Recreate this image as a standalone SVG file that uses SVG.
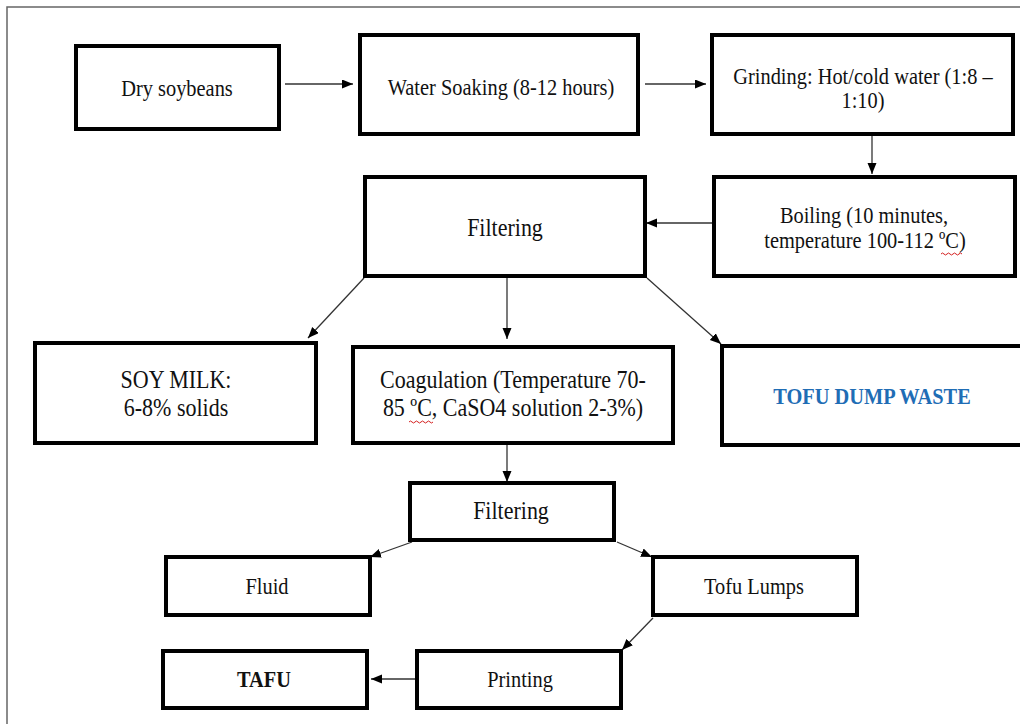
<svg xmlns="http://www.w3.org/2000/svg" width="1020" height="724" viewBox="0 0 1020 724">
<style>
.box{fill:#fff;stroke:#000;stroke-width:4}
.t{font-family:"Liberation Serif","Times New Roman",serif;font-size:20.4px;fill:#111;text-anchor:middle}
.m{font-size:22px}
.b{font-weight:bold}
.blue{fill:#1f6db5}
.c{stroke:#333;stroke-width:1.3;fill:none;marker-end:url(#ah)}
.frame{stroke:#666;stroke-width:1.5;fill:none}
.wavy{stroke:#d42020;stroke-width:1;fill:none}
</style>
<defs>
<marker id="ah" markerUnits="userSpaceOnUse" markerWidth="12" markerHeight="10" refX="11" refY="4.5" orient="auto">
<path d="M0,0 L11,4.5 L0,9 z" fill="#000"/>
</marker>
</defs>
<rect width="1020" height="724" fill="#fff"/>
<path class="frame" d="M7,724 L7,7 L1020,7"/>

<g id="connectors">
<line class="c" x1="285" y1="84" x2="353" y2="84"/>
<line class="c" x1="645" y1="84" x2="706" y2="84"/>
<line class="c" x1="872" y1="134" x2="872" y2="174"/>
<line class="c" x1="713" y1="223" x2="646" y2="223"/>
<line class="c" x1="364" y1="278" x2="308" y2="338"/>
<line class="c" x1="507" y1="278" x2="507" y2="339"/>
<line class="c" x1="647" y1="278" x2="721" y2="344"/>
<line class="c" x1="507" y1="445" x2="507" y2="482"/>
<line class="c" x1="412" y1="542" x2="370" y2="557"/>
<line class="c" x1="617" y1="542" x2="652" y2="557"/>
<line class="c" x1="653" y1="618" x2="622" y2="650"/>
<line class="c" x1="415" y1="679" x2="371" y2="679"/>
</g>

<g id="n-dry">
<rect class="box" x="76" y="46" width="203" height="83"/>
<text class="t" transform="translate(177,96) scale(1,1.1)">Dry soybeans</text>
</g>
<g id="n-soak">
<rect class="box" x="360" y="35" width="278" height="99"/>
<text class="t" transform="translate(501,95) scale(1,1.1)">Water Soaking (8-12 hours)</text>
</g>
<g id="n-grind">
<rect class="box" x="712" y="35" width="301" height="99"/>
<text class="t" transform="translate(863,84) scale(1,1.1)">Grinding: Hot/cold water (1:8 –</text>
<text class="t" transform="translate(863,108) scale(1,1.1)">1:10)</text>
</g>
<g id="n-boil">
<rect class="box" x="714" y="177" width="301" height="99"/>
<text class="t" transform="translate(864,223) scale(1,1.1)">Boiling (10 minutes,</text>
<text class="t" transform="translate(865,248) scale(1,1.1)">temperature 100-112 ºC)</text>
<path class="wavy" d="M941,254 q1.5,-2 3,0 t3,0 t3,0 t3,0 t3,0 t3,0 t3,0"/>
</g>
<g id="n-filter1">
<rect class="box" x="365" y="177" width="280" height="99"/>
<text class="t m" transform="translate(505,236) scale(1,1.1)">Filtering</text>
</g>
<g id="n-soymilk">
<rect class="box" x="35" y="343" width="281" height="100"/>
<text class="t m" transform="translate(176,388) scale(1,1.1)">SOY MILK:</text>
<text class="t m" transform="translate(176,416) scale(1,1.1)">6-8% solids</text>
</g>
<g id="n-coag">
<rect class="box" x="353" y="347" width="320" height="96"/>
<text class="t m" transform="translate(513,388) scale(1,1.1)">Coagulation (Temperature 70-</text>
<text class="t m" transform="translate(513,416) scale(1,1.1)">85 ºC, CaSO4 solution 2-3%)</text>
<path class="wavy" d="M409,422 q1.5,-2 3,0 t3,0 t3,0 t3,0 t3,0 t3,0 t3,0 t3,0"/>
</g>
<g id="n-waste">
<rect class="box" x="722" y="346" width="310" height="99"/>
<text class="t b blue" transform="translate(872,404) scale(1,1.1)">TOFU DUMP WASTE</text>
</g>
<g id="n-filter2">
<rect class="box" x="410" y="483" width="204" height="57"/>
<text class="t m" transform="translate(511,519) scale(1,1.1)">Filtering</text>
</g>
<g id="n-fluid">
<rect class="box" x="166" y="557" width="204" height="58"/>
<text class="t" transform="translate(267,594) scale(1,1.1)">Fluid</text>
</g>
<g id="n-lumps">
<rect class="box" x="653" y="557" width="204" height="58"/>
<text class="t" transform="translate(754,594) scale(1,1.1)">Tofu Lumps</text>
</g>
<g id="n-print">
<rect class="box" x="417" y="651" width="204" height="57"/>
<text class="t" transform="translate(520,687) scale(1,1.1)">Printing</text>
</g>
<g id="n-tafu">
<rect class="box" x="163" y="651" width="204" height="57"/>
<text class="t b" transform="translate(264,687) scale(1,1.1)">TAFU</text>
</g>
</svg>
